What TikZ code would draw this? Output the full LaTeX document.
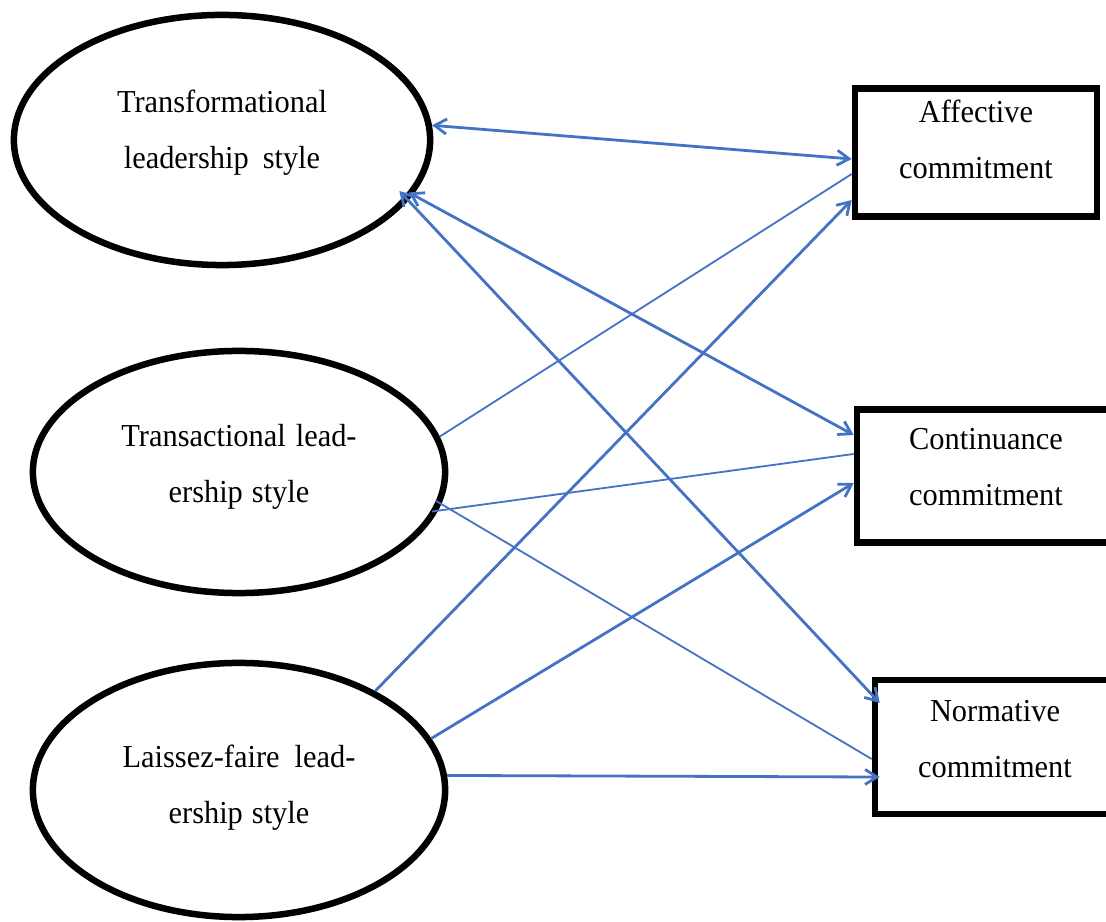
\documentclass[tikz,border=0pt]{standalone}
\usepackage{fontspec}
\setmainfont[FakeStretch=0.95]{Liberation Serif}
\usetikzlibrary{shapes.geometric, arrows.meta}
\definecolor{linkblue}{RGB}{68,114,196}
\tikzset{
>={Straight Barb[length=1.2mm,width=1.5mm]}, % open arrow heads
every node/.style={font=\fontsize{9.1}{15.9}\selectfont}, % Times-like text
leader/.style={ellipse, draw, line width=0.065cm, inner sep=0pt}, % leadership styles
commit/.style={rectangle, draw, line width=0.065cm, inner sep=0pt}, % commitment boxes
txt/.style={align=center, inner sep=0pt}, % text inside the shapes
link/.style={draw=linkblue, line width=0.028cm}, % arrows
thin link/.style={draw=linkblue, line width=0.018cm}, % plain lines
}
\begin{document}
\begin{tikzpicture}[x=0.01cm, y=-0.01cm]
\useasboundingbox (0,0) rectangle (1106,922);
\node[leader, minimum width=4.16cm, minimum height=2.5cm] (tf) at (222,140) {};
\node[leader, minimum width=4.12cm, minimum height=2.42cm] (ta) at (239,472) {};
\node[leader, minimum width=4.12cm, minimum height=2.54cm] (lf) at (239,790) {};
\node[commit, minimum width=2.42cm, minimum height=1.28cm] (ac) at (976,152.5) {};
\node[commit, minimum width=2.58cm, minimum height=1.33cm] (cc) at (986,476) {};
\node[commit, minimum width=2.40cm, minimum height=1.34cm] (nc) at (995,747) {};
\node[txt] (tftext) at ([yshift=0.07cm]tf) {Transformational\\leadership\hspace{0.14cm}style};
\node[txt] (tatext) at ([yshift=0.05cm]ta) {Transactional\hspace{0.1cm}lead-\\ership\hspace{0.09cm}style};
\node[txt] (lftext) at ([yshift=0.02cm]lf) {Laissez-faire\hspace{0.15cm}lead-\\ership\hspace{0.09cm}style};
\node[txt] (actext) at ([yshift=0.13cm]ac) {Affective\\commitment};
\node[txt] (cctext) at ([yshift=0.09cm]cc) {Continuance\\commitment};
\node[txt] (nctext) at ([yshift=0.08cm]nc) {Normative\\commitment};
\draw[link, <->] (tf.4) -- ([yshift=-0.065cm]ac.west);
\draw[link, <->, shorten <=-0.05cm] (tf.-16.5) -- ([yshift=0.41cm]cc.west);
\draw[link, <->, shorten <=-0.13cm] (tf.-18.5) -- ([xshift=0.08cm,yshift=0.44cm]nc.west);
\draw[thin link] (ta.10) -- ([yshift=-0.215cm]ac.west);
\draw[thin link, shorten <=-0.06cm] (ta.-11) -- ([yshift=0.22cm]cc.west);
\draw[thin link, shorten <=-0.06cm] (ta.-9.5) -- ([yshift=-0.12cm]nc.west);
\draw[link, ->] (lf.36) -- ([yshift=-0.475cm]ac.west);
\draw[link, ->] (lf.15) -- ([yshift=-0.07cm]cc.west);
\draw[link, ->] (lf.4) -- ([xshift=0.08cm,yshift=-0.3cm]nc.west);
\end{tikzpicture}
\end{document}
